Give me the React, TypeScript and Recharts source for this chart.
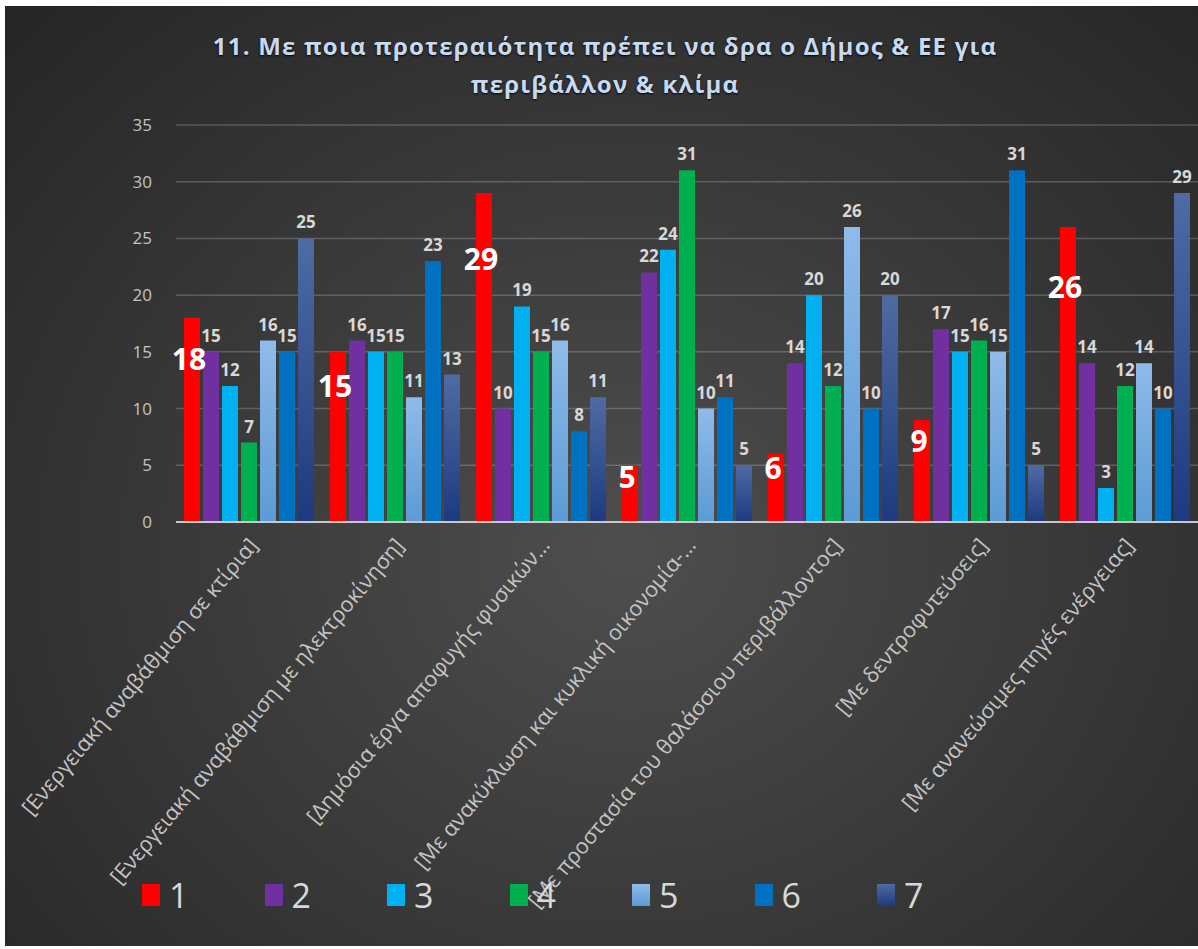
import { Bar, BarChart, CartesianGrid, LabelList, XAxis, YAxis } from 'recharts';

const categories = [
  '[Ενεργειακή αναβάθμιση σε κτίρια]',
  '[Ενεργειακή αναβάθμιση με ηλεκτροκίνηση]',
  '[Δημόσια έργα αποφυγής φυσικών…',
  '[Με ανακύκλωση και κυκλική οικονομία-…',
  '[Με προστασία του θαλάσσιου περιβάλλοντος]',
  '[Με δεντροφυτεύσεις]',
  '[Με ανανεώσιμες πηγές ενέργειας]'
];

const s1 = [18, 15, 29, 5, 6, 9, 26];
const s2 = [15, 16, 10, 22, 14, 17, 14];
const s3 = [12, 15, 19, 24, 20, 15, 3];
const s4 = [7, 15, 15, 31, 12, 16, 12];
const s5 = [16, 11, 16, 10, 26, 15, 14];
const s6 = [15, 23, 8, 11, 10, 31, 10];
const s7 = [25, 13, 11, 5, 20, 5, 29];

const seriesNames = ['1', '2', '3', '4', '5', '6', '7'];
const yTicks = [0, 5, 10, 15, 20, 25, 30, 35];

const data = categories.map((name, i) => ({
  name,
  r1: s1[i],
  r2: s2[i],
  r3: s3[i],
  r4: s4[i],
  r5: s5[i],
  r6: s6[i],
  r7: s7[i]
}));

const fills = ['#ff0000', '#7030a0', '#00b0f0', '#00b050', 'url(#g5)', '#0070c0', 'url(#g7)'];
const swatches = [
  '#ff0000',
  '#7030a0',
  '#00b0f0',
  '#00b050',
  'linear-gradient(#8fbbe9, #5b9bd5)',
  '#0070c0',
  'linear-gradient(#4f6ba3, #1d3a80)'
];

const FONT = '"Open Sans", "Noto Sans", sans-serif';

function XTick(props: any) {
  const { x, y, payload } = props;
  return (
    <text
      transform={`translate(${x + 10},${y + 16}) rotate(-50)`}
      textAnchor="end"
      fill="#c4c4c4"
      fontSize={21.5}
      fontFamily={FONT}
    >
      {payload.value}
    </text>
  );
}

// big white numbers for the first series sit inside the bar, a bit below its top
function BigLabel(props: any) {
  const { x, y, width, height, value } = props;
  return (
    <text
      x={x + width / 2 - 3}
      y={y + height * 0.2}
      textAnchor="middle"
      dominantBaseline="central"
      fill="#ffffff"
      fontSize={30}
      fontWeight="bold"
      fontFamily={FONT}
    >
      {value}
    </text>
  );
}

export default function App() {
  return (
    <div style={{ position: 'fixed', left: 0, top: 0, width: 1198, height: 949, background: '#ffffff' }}>
      <div
        style={{
          position: 'absolute',
          left: 5,
          top: 6,
          right: 0,
          bottom: 3,
          background: 'radial-gradient(ellipse at 52% 58%, #4e4e4e 0%, #3b3b3b 45%, #252525 100%)'
        }}
      />
      <div
        style={{
          position: 'absolute',
          left: 0,
          top: 27,
          width: 1210,
          textAlign: 'center',
          color: '#c8daf0',
          fontFamily: FONT,
          fontWeight: 'bold',
          fontSize: 24,
          lineHeight: '38px',
          letterSpacing: 1.2,
          textShadow: '0 1px 2px #000'
        }}
      >
        <div>11. Με ποια προτεραιότητα πρέπει να δρα ο Δήμος &amp; ΕΕ για</div>
        <div>περιβάλλον &amp; κλίμα</div>
      </div>
      <div style={{ position: 'absolute', left: 0, top: 0 }}>
        <BarChart
          width={1198}
          height={949}
          data={data}
          margin={{ top: 125, right: 0, left: 100, bottom: 27 }}
          barCategoryGap={8}
          barGap={3}
        >
          <defs>
            <linearGradient id="g5" x1="0" y1="0" x2="0" y2="1">
              <stop offset="0%" stopColor="#8fbbe9" />
              <stop offset="100%" stopColor="#5b9bd5" />
            </linearGradient>
            <linearGradient id="g7" x1="0" y1="0" x2="0" y2="1">
              <stop offset="0%" stopColor="#4f6ba3" />
              <stop offset="100%" stopColor="#1d3a80" />
            </linearGradient>
          </defs>
          <CartesianGrid vertical={false} stroke="rgba(255,255,255,0.2)" strokeWidth={1.5} />
          <XAxis
            dataKey="name"
            interval={0}
            height={400}
            tick={<XTick />}
            tickLine={false}
            axisLine={{ stroke: '#c8c8c8', strokeWidth: 2 }}
          />
          <YAxis
            domain={[0, 35]}
            ticks={yTicks}
            width={76}
            tickLine={false}
            axisLine={false}
            tickMargin={18}
            tick={{ fill: '#c4c4c4', fontSize: 17, fontFamily: FONT }}
          />
          {seriesNames.map((s, i) => (
            <Bar key={s} dataKey={`r${i + 1}`} name={s} fill={fills[i]} isAnimationActive={false}>
              {i === 0 ? (
                <LabelList dataKey="r1" content={<BigLabel />} />
              ) : (
                <LabelList
                  dataKey={`r${i + 1}`}
                  position="top"
                  offset={10}
                  fill="#d8d8d8"
                  fontSize={17}
                  fontWeight="bold"
                  fontFamily={FONT}
                />
              )}
            </Bar>
          ))}
        </BarChart>
      </div>
      {seriesNames.map((s, i) => (
        <div
          key={s}
          style={{
            position: 'absolute',
            left: 142 + i * 122.5,
            top: 872,
            display: 'flex',
            alignItems: 'center',
            fontFamily: FONT,
            fontSize: 34,
            color: '#d8d8d8'
          }}
        >
          <span style={{ display: 'inline-block', width: 18, height: 22, background: swatches[i], marginRight: 9 }} />
          <span>{s}</span>
        </div>
      ))}
    </div>
  );
}
